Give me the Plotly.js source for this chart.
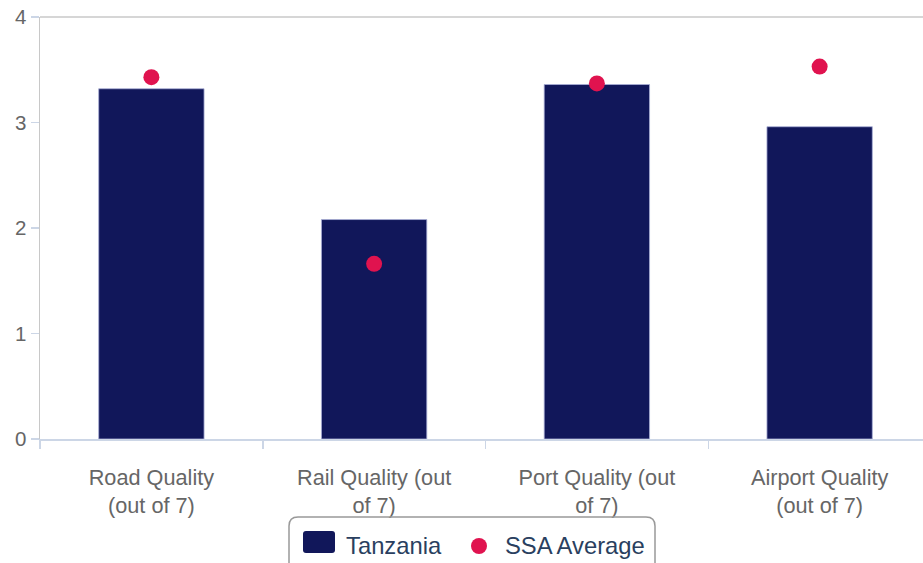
<!DOCTYPE html>
<html>
<head>
<meta charset="utf-8">
<script src="https://cdn.plot.ly/plotly-3.0.1.min.js"></script>
<style>html,body{margin:0;padding:0;background:#fff;overflow:hidden;}#wrap{width:923px;height:563px;overflow:hidden;}</style>
</head>
<body>
<div id="wrap"><div id="chart"></div></div>
<script>
var categories = ["Road Quality<br>(out of 7)", "Rail Quality (out<br>of 7)", "Port Quality (out<br>of 7)", "Airport Quality<br>(out of 7)"];
var tanzania = [3.32, 2.08, 3.36, 2.96];
var ssaAverage = [3.43, 1.66, 3.37, 3.53];
var seriesNames = ["Tanzania", "SSA Average"];
var yTicks = [0, 1, 2, 3, 4];

var W = 931, H = 563, ML = 40, MR = 0, MT = 17, MB = 124;
var PW = W - ML - MR, PH = H - MT - MB;
function px(x) { return (x - ML) / PW; }
function py(y) { return (H - MB - y) / PH; }
function roundRect(x0, y0, x1, y1, r) {
  var a = px(x0), b = px(x1), c = py(y0), d = py(y1);
  var rx = r / PW, ry = r / PH;
  return 'M' + (a + rx) + ',' + c + ' L' + (b - rx) + ',' + c + ' Q' + b + ',' + c + ' ' + b + ',' + (c - ry) +
    ' L' + b + ',' + (d + ry) + ' Q' + b + ',' + d + ' ' + (b - rx) + ',' + d +
    ' L' + (a + rx) + ',' + d + ' Q' + a + ',' + d + ' ' + a + ',' + (d + ry) +
    ' L' + a + ',' + (c - ry) + ' Q' + a + ',' + c + ' ' + (a + rx) + ',' + c + ' Z';
}

var navy = '#11175a', red = '#e0134f';
var traces = [
  { type: 'bar', name: seriesNames[0], x: categories, y: tanzania,
    marker: { color: navy, line: { color: 'rgba(170,175,215,0.8)', width: 1 } },
    hoverinfo: 'x+y' },
  { type: 'scatter', mode: 'markers', name: seriesNames[1], x: categories, y: ssaAverage,
    marker: { color: red, size: 16 } }
];

var layout = {
  width: W, height: H,
  margin: { l: ML, r: MR, t: MT, b: MB, pad: 0 },
  paper_bgcolor: '#fff', plot_bgcolor: '#fff',
  font: { family: 'Liberation Sans, Arial, sans-serif', color: '#666' },
  showlegend: false,
  bargap: 0.527,
  xaxis: {
    type: 'category', showgrid: false, zeroline: false,
    showline: true, linecolor: '#ccd6e6', linewidth: 2,
    ticks: 'outside', tickson: 'boundaries', ticklen: 8, tickcolor: '#ccd6e6', tickwidth: 1.5,
    ticklabelstandoff: 18,
    tickfont: { size: 21.7, color: '#666' }, fixedrange: true
  },
  yaxis: {
    range: [0, 4], tickvals: yTicks, showgrid: false, zeroline: false,
    showline: true, linecolor: '#c8c8c8', linewidth: 1.5,
    ticks: 'outside', ticklen: 8, tickcolor: '#ccd6e6', tickwidth: 1.5,
    tickfont: { size: 20.5, color: '#666' }, fixedrange: true
  },
  shapes: [
    { type: 'line', xref: 'paper', yref: 'paper', x0: 0, x1: 1, y0: 1, y1: 1, line: { color: '#c8c8c8', width: 1.5 } },
    { type: 'path', xref: 'paper', yref: 'paper', path: roundRect(289, 517, 655, 585, 9), line: { color: '#999', width: 1.5 }, fillcolor: 'rgba(0,0,0,0)' },
    { type: 'path', xref: 'paper', yref: 'paper', path: roundRect(303, 531, 335, 553, 3), line: { width: 0 }, fillcolor: navy },
    { type: 'circle', xref: 'paper', yref: 'paper', x0: px(471), x1: px(487), y0: py(538), y1: py(554), line: { width: 0 }, fillcolor: red }
  ],
  annotations: [
    { xref: 'paper', yref: 'paper', x: px(344), y: py(545), xanchor: 'left', yanchor: 'middle', showarrow: false,
      text: seriesNames[0], font: { size: 23.8, color: '#2a3f5f' } },
    { xref: 'paper', yref: 'paper', x: px(503), y: py(545), xanchor: 'left', yanchor: 'middle', showarrow: false,
      text: seriesNames[1], font: { size: 23.8, color: '#2a3f5f' } }
  ]
};

Plotly.newPlot('chart', traces, layout, { displayModeBar: false, staticPlot: true });
</script>
</body>
</html>
